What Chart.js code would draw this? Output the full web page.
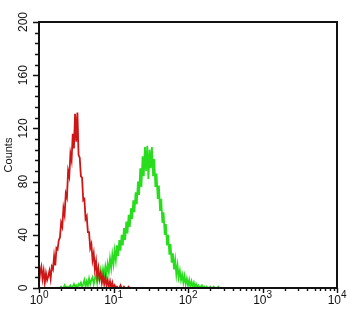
<!DOCTYPE html>
<html>
<head>
<meta charset="utf-8">
<script src="https://cdn.jsdelivr.net/npm/chart.js@4/dist/chart.umd.min.js"></script>
<style>
  html, body { margin: 0; padding: 0; background: #fff; }
  #wrap { width: 350px; height: 315px; }
</style>
</head>
<body>
<div id="wrap"><canvas id="histo" width="350" height="315"></canvas></div>
<script>
// histogram channels: 64 channels per decade, channel 0 = 10^0
const channelsPerDecade = 64;
const redStart = 0;
const redCounts = [3, 12, 16, 7, 13, 4, 11, 6, 9, 13, 7, 16, 14, 24, 17, 30, 29, 36, 38, 49,
  46, 60, 55, 71, 68, 88, 84, 101, 96, 116, 105, 131, 110, 132, 100, 98, 84, 83, 66, 67,
  52, 54, 42, 42, 30, 33, 21, 26, 14, 20, 9, 15, 7, 11, 4, 9, 3, 8, 2, 6,
  1, 5, 0, 4, 0, 2, 0, 1, 0, 0, 2, 0, 0, 1, 0, 0, 0, 1, 0, 0, 0];
const greenStart = 18;
const greenCounts = [0, 1, 0, 0, 2, 0, 1, 0, 1, 2, 0, 1, 3, 1, 2, 0, 3, 2, 4, 1,
  3, 6, 1, 5, 2, 7, 3, 6, 8, 3, 7, 10, 4, 11, 6, 13, 7, 14, 9, 16,
  10, 18, 12, 22, 15, 25, 18, 28, 21, 32, 24, 36, 28, 40, 32, 45, 36, 50, 41, 55,
  46, 60, 52, 66, 57, 72, 63, 80, 70, 90, 76, 99, 84, 106, 88, 107, 82, 104, 90, 106,
  84, 97, 76, 86, 67, 77, 58, 67, 49, 57, 40, 48, 32, 40, 25, 33, 19, 26, 14, 21,
  10, 17, 8, 13, 6, 10, 4, 9, 3, 7, 2, 6, 1, 5, 1, 4, 0, 3, 1, 2,
  0, 1, 2, 0, 1, 0, 1, 0, 0, 1, 0, 0, 1, 0, 0, 0, 1, 0];
const xDecades = [1, 10, 100, 1000, 10000];
const yLabels = [0, 40, 80, 120, 160, 200];
const yMinorStep = 8;

function toPoints(start, counts) {
  return counts.map((c, i) => ({ x: Math.pow(10, (start + i) / channelsPerDecade), y: c }));
}

const axesPlugin = {
  id: 'axesPlugin',
  afterDraw(chart) {
    const ctx = chart.ctx;
    const a = chart.chartArea;
    const xs = chart.scales.x, ys = chart.scales.y;
    ctx.save();
    ctx.strokeStyle = '#111';
    ctx.lineWidth = 2;
    ctx.strokeRect(a.left, a.top, a.right - a.left, a.bottom - a.top);

    ctx.lineWidth = 1.4;
    ctx.beginPath();
    // y ticks (outward)
    for (let v = 0; v <= 200; v += yMinorStep) {
      const py = Math.round(ys.getPixelForValue(v)) + 0.5;
      const len = (v % 40 === 0) ? 6 : 4;
      ctx.moveTo(a.left, py);
      ctx.lineTo(a.left - len, py);
    }
    // x ticks (outward)
    for (let d = 0; d < xDecades.length; d++) {
      const base = xDecades[d];
      const px = Math.round(xs.getPixelForValue(base)) + 0.5;
      ctx.moveTo(px, a.bottom);
      ctx.lineTo(px, a.bottom + 5);
      if (d < xDecades.length - 1) {
        for (let k = 2; k <= 9; k++) {
          const mx = Math.round(xs.getPixelForValue(base * k)) + 0.5;
          ctx.moveTo(mx, a.bottom);
          ctx.lineTo(mx, a.bottom + 3);
        }
      }
    }
    ctx.stroke();

    ctx.fillStyle = '#111';
    // y labels rotated
    ctx.font = '12px "Liberation Sans", Arial, sans-serif';
    ctx.textAlign = 'center';
    ctx.textBaseline = 'middle';
    yLabels.forEach(v => {
      const py = ys.getPixelForValue(v);
      ctx.save();
      ctx.translate(24, py);
      ctx.rotate(-Math.PI / 2);
      ctx.fillText(String(v), 0, 0);
      ctx.restore();
    });
    ctx.save();
    ctx.translate(9, (a.top + a.bottom) / 2);
    ctx.rotate(-Math.PI / 2);
    ctx.font = '11px "Liberation Sans", Arial, sans-serif';
    ctx.fillText('Counts', 0, 0);
    ctx.restore();

    // x labels 10^n
    xDecades.forEach((v, i) => {
      const px = xs.getPixelForValue(v);
      ctx.font = '12px "Liberation Sans", Arial, sans-serif';
      ctx.textAlign = 'right';
      ctx.textBaseline = 'alphabetic';
      ctx.fillText('10', px + 4, 304);
      ctx.font = '10px "Liberation Sans", Arial, sans-serif';
      ctx.textAlign = 'left';
      ctx.fillText(String(i), px + 4, 298);
    });
    ctx.restore();
  }
};

new Chart(document.getElementById('histo').getContext('2d'), {
  type: 'line',
  data: {
    datasets: [
      {
        label: 'Control',
        data: toPoints(redStart, redCounts),
        borderColor: 'rgb(205, 22, 22)',
        borderWidth: 1.8,
        pointRadius: 0,
        tension: 0,
        fill: false
      },
      {
        label: 'Sample',
        data: toPoints(greenStart, greenCounts),
        borderColor: 'rgb(40, 220, 30)',
        borderWidth: 1.8,
        pointRadius: 0,
        tension: 0,
        fill: false
      }
    ]
  },
  options: {
    responsive: false,
    animation: false,
    layout: { padding: { left: 39, right: 13, top: 22, bottom: 27 } },
    plugins: { legend: { display: false }, tooltip: { enabled: false } },
    scales: {
      x: { type: 'logarithmic', min: 1, max: 10000, display: false },
      y: { type: 'linear', min: 0, max: 200, display: false }
    }
  },
  plugins: [axesPlugin]
});
</script>
</body>
</html>
